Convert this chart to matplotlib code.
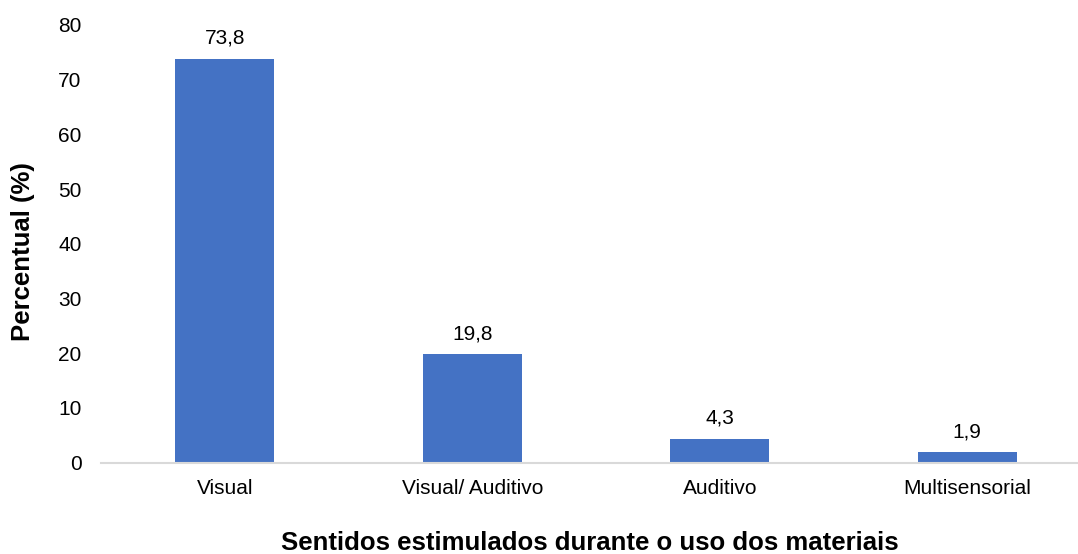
import matplotlib.pyplot as plt

plt.rcParams['font.family'] = ['Liberation Sans', 'DejaVu Sans']

# Percentual por sentido estimulado
categorias = ['Visual', 'Visual/ Auditivo', 'Auditivo', 'Multisensorial']
percentual = [73.8, 19.8, 4.3, 1.9]
yticks = [0, 10, 20, 30, 40, 50, 60, 70, 80]

W, H = 1078, 554
fig = plt.figure(figsize=(W / 100, H / 100), dpi=100)
ax = fig.add_axes([101 / W, 1 - 462.7 / H, 990 / W, (462.7 - 25) / H])

x = range(len(categorias))
barras = ax.bar(x, percentual, width=0.4, color='#4472C4')

# rótulos de valor com vírgula decimal
for b, v in zip(barras, percentual):
    ax.annotate(f'{v:.1f}'.replace('.', ','),
                (b.get_x() + b.get_width() / 2, v),
                xytext=(0, 11), textcoords='offset points',
                ha='center', va='baseline', fontsize=15)

ax.set_xlim(-0.5, 3.5)
ax.set_ylim(0, 80)
ax.set_yticks(yticks)
ax.set_xticks(list(x))
ax.set_xticklabels(categorias)
ax.tick_params(axis='y', length=0, pad=14, labelsize=15)
ax.tick_params(axis='x', length=0, pad=12, labelsize=15)

for s in ['top', 'right', 'left']:
    ax.spines[s].set_visible(False)
ax.spines['bottom'].set_color('#D9D9D9')
ax.spines['bottom'].set_linewidth(1.5)

fig.text(590 / W, 1 - 550 / H, 'Sentidos estimulados durante o uso dos materiais',
         ha='center', va='baseline', fontsize=18.5, fontweight='bold')
fig.text(23 / W, 1 - 252 / H, 'Percentual (%)', rotation=90,
         ha='center', va='center', fontsize=18.5, fontweight='bold')

fig.savefig('out.png', dpi=100)
